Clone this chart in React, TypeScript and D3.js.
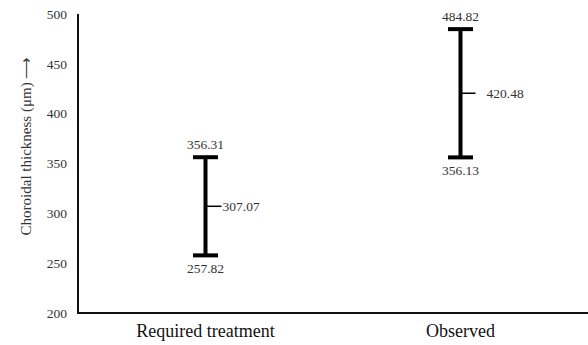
import React from "react";
import * as d3 from "d3";

const categories = ["Required treatment", "Observed"];
const maxValues = [356.31, 484.82];
const meanValues = [307.07, 420.48];
const minValues = [257.82, 356.13];
const yTicks = [200, 250, 300, 350, 400, 450, 500];
const yTitle = "Choroidal thickness (μm) ⟶";

export default function App() {
  const W = 588, H = 345;
  const left = 78, right = 588, top = 14, bottom = 313;
  const y = d3.scaleLinear().domain([200, 500]).range([bottom, top]);
  const x = d3.scaleBand().domain(categories).range([left, right]).padding(0);
  const font = "'Liberation Serif', 'Times New Roman', serif";
  const textColor = "#333";
  return (
    <svg width={W} height={H} style={{ position: "absolute", left: 0, top: 0, background: "#fff" }} fontFamily={font}>
      <rect width={W} height={H} fill="#fff" />
      <path d={`M${left},${top}V${bottom}H${right}`} fill="none" stroke="#111" strokeWidth={2} />
      {yTicks.map((t) => (
        <text key={t} x={67} y={y(t)} dy="0.35em" textAnchor="end" fontSize={13.5} fill={textColor}>
          {t}
        </text>
      ))}
      <text
        transform={`translate(26,146) rotate(-90)`}
        textAnchor="middle"
        dy="0.35em"
        fontSize={15}
        fill={textColor}
      >
        {yTitle}
      </text>
      {categories.map((c, i) => {
        const cx = (x(c) as number) + x.bandwidth() / 2;
        const capW = 25;
        const meanLen = i === 0 ? 16 : 15;
        return (
          <g key={c}>
            <line x1={cx} x2={cx} y1={y(maxValues[i])} y2={y(minValues[i])} stroke="#000" strokeWidth={4} />
            <line x1={cx - capW / 2} x2={cx + capW / 2} y1={y(maxValues[i])} y2={y(maxValues[i])} stroke="#000" strokeWidth={4} />
            <line x1={cx - capW / 2} x2={cx + capW / 2} y1={y(minValues[i])} y2={y(minValues[i])} stroke="#000" strokeWidth={4} />
            <line x1={cx} x2={cx + meanLen} y1={y(meanValues[i])} y2={y(meanValues[i])} stroke="#000" strokeWidth={1.5} />
            <text x={cx} y={y(maxValues[i]) - 8} textAnchor="middle" fontSize={13.5} fill={textColor}>
              {maxValues[i].toFixed(2)}
            </text>
            <text x={cx} y={y(minValues[i]) + 18} textAnchor="middle" fontSize={13.5} fill={textColor}>
              {minValues[i].toFixed(2)}
            </text>
            <text x={cx + (i === 0 ? 17 : 26)} y={y(meanValues[i])} dy="0.35em" textAnchor="start" fontSize={13.5} fill={textColor}>
              {meanValues[i].toFixed(2)}
            </text>
            <text x={cx} y={337} textAnchor="middle" fontSize={18} fill="#111">
              {c}
            </text>
          </g>
        );
      })}
    </svg>
  );
}
